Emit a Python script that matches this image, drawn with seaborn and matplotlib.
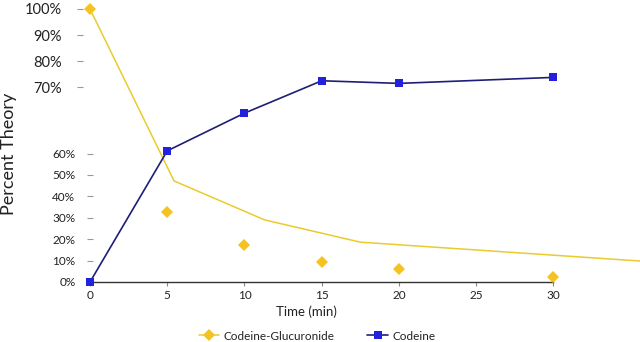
import numpy as np
import pandas as pd
import matplotlib
matplotlib.use("Agg")
import matplotlib.pyplot as plt
from matplotlib.lines import Line2D
from matplotlib.transforms import ScaledTranslation
import seaborn as sns

# Sampling times (min)
time_min = [0, 5, 10, 15, 20, 30]
# Measured percent of theory
codeine_pct = [0.0, 60.4, 66.1, 72.5, 71.5, 73.8]
glucuronide_pct = [100.0, 32.8, 17.3, 9.5, 6.1, 2.2]
# Glucuronide decay curve
curve_time = [0, 5.44, 11.3, 17.5, 35.6]
curve_pct = [100.0, 47.2, 29.0, 18.6, 9.8]

y_ticks = [0, 10, 20, 30, 40, 50, 60, 70, 80, 90, 100]
y_tick_labels = [f"{v}%" for v in y_ticks]
x_ticks = [0, 5, 10, 15, 20, 25, 30]

sns.set_theme(style="white")
plt.rcParams["font.family"] = ["Lato", "DejaVu Sans"]

GOLD = "#F5C21F"
LEMON = "#EACB2E"
BLUE = "#2222DD"
NAVY = "#1E1E78"

fig = plt.figure(figsize=(6.4, 3.42), dpi=100)
ax = fig.add_axes([90 / 640, 60 / 342, 550 / 640, 273 / 342])

# Piecewise-linear value axis: compressed 0-60 band, stretched 60-70 gap, 70-100 band
brk_v = np.array([0.0, 60.0, 70.0, 100.0])
brk_p = np.array([0.0, 128.5, 194.7, 273.0])


def fwd(v):
    return np.interp(np.asarray(v, dtype=float), brk_v, brk_p)


def inv(p):
    return np.interp(np.asarray(p, dtype=float), brk_p, brk_v)


ax.set_yscale("function", functions=(fwd, inv))

df_pts = pd.DataFrame({"time": time_min, "codeine": codeine_pct,
                       "glucuronide": glucuronide_pct})
df_curve = pd.DataFrame({"time": curve_time, "pct": curve_pct})

sns.lineplot(data=df_curve, x="time", y="pct", ax=ax, color=LEMON,
             linewidth=1.1, sort=False, estimator=None)
sns.lineplot(data=df_pts, x="time", y="codeine", ax=ax, color=NAVY,
             linewidth=1.2, sort=False, estimator=None)
ax.plot(df_pts["time"], df_pts["codeine"], linestyle="none", marker="s",
        markersize=6, color=BLUE, markeredgewidth=0, clip_on=False, zorder=5)
ax.plot(df_pts["time"], df_pts["glucuronide"], linestyle="none", marker="D",
        markersize=6, color=GOLD, markeredgewidth=0, clip_on=False, zorder=5)

ax.set_xlim(0, 35.6)
ax.set_ylim(0, 100)

for side in ["top", "right", "left"]:
    ax.spines[side].set_visible(False)
ax.spines["bottom"].set_bounds(0, 30)
ax.spines["bottom"].set_color("#333333")
ax.spines["bottom"].set_linewidth(1.0)

ax.set_xticks(x_ticks)
ax.set_xticklabels([str(t) for t in x_ticks])
ax.tick_params(axis="x", direction="out", length=3, width=0.8, color="#888888",
               labelsize=8.5, labelcolor="#222222", pad=3, bottom=True)

ax.set_yticks(y_ticks)
ax.set_yticklabels(y_tick_labels)
ax.tick_params(axis="y", direction="inout", length=4, width=0.8, color="#999999",
               labelsize=8.5, labelcolor="#222222", pad=8.5, left=True)

ax.set_xlabel("Time (min)", fontsize=9.5, color="#222222")
ax.xaxis.set_label_coords(216 / 550, -30 / 273)
ax.xaxis.label.set_va("center")
ax.set_ylabel("Percent Theory", fontsize=13, color="#222222")
ax.yaxis.set_label_coords(-81 / 550, 128.5 / 273)
ax.yaxis.label.set_va("center")

# Upper band labels sit further out and larger
for val, tick in zip(y_ticks, ax.yaxis.get_major_ticks()):
    if val >= 70:
        tick.label1.set_fontsize(10.5)
        tick.label1.set_transform(tick.label1.get_transform()
                                  + ScaledTranslation(-14 / 100, 0, fig.dpi_scale_trans))
        tick.tick1line.set_transform(tick.tick1line.get_transform()
                                     + ScaledTranslation(-10 / 100, 0, fig.dpi_scale_trans))

handles = [
    Line2D([], [], color=LEMON, linewidth=1.1, marker="D", markersize=6,
           markerfacecolor=GOLD, markeredgewidth=0),
    Line2D([], [], color=NAVY, linewidth=1.2, marker="s", markersize=6,
           markerfacecolor=BLUE, markeredgewidth=0),
]
fig.legend(handles, ["Codeine-Glucuronide", "Codeine"], loc="center",
           bbox_to_anchor=(317 / 640, 6 / 342), ncol=2, frameon=False,
           fontsize=8.5, handlelength=1.7, handletextpad=0.4,
           columnspacing=2.8, borderpad=0, labelcolor="#222222")

fig.savefig("out.png", dpi=100)
